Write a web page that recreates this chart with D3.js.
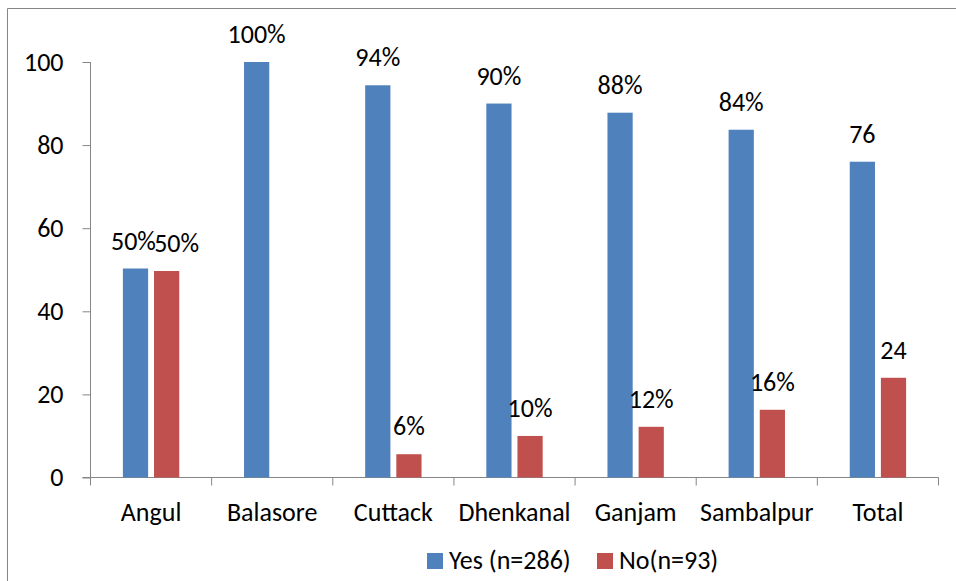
<!DOCTYPE html>
<html>
<head>
<meta charset="utf-8">
<script src="https://cdn.jsdelivr.net/npm/d3@7"></script>
<style>
  body { margin: 0; background: #fff; }
  svg { font-family: Carlito, Calibri, "Open Sans", sans-serif; }
</style>
</head>
<body>
<div id="graph"></div>
<script>
var districts = ["Angul", "Balasore", "Cuttack", "Dhenkanal", "Ganjam", "Sambalpur", "Total"];
var yesValues = [50.3, 100, 94.4, 90, 87.8, 83.7, 76];
var noValues = [49.7, 0, 5.6, 10, 12.2, 16.3, 24];
var yesLabels = ["50%", "100%", "94%", "90%", "88%", "84%", "76"];
var noLabels = ["50%", "", "6%", "10%", "12%", "16%", "24"];
var yTicks = [0, 20, 40, 60, 80, 100];
var seriesNames = ["Yes (n=286)", "No(n=93)"];
var seriesColors = ["#4F81BD", "#C0504D"];

var width = 956, height = 581;
var plotLeft = 90.5, plotRight = 938.5, plotTop = 62, plotBottom = 477.5;
var fontSize = "26px";

var chart = d3.select("#graph").append("svg")
    .attr("width", width)
    .attr("height", height);

// outer chart border (runs off the page to the right and bottom)
chart.append("path")
    .attr("d", "M7.5," + height + "V8.5H" + width)
    .attr("fill", "none")
    .attr("stroke", "#868686")
    .attr("stroke-width", 1);

var xScale = d3.scaleBand()
    .domain(districts)
    .range([plotLeft, plotRight]);

var inner = d3.scaleBand()
    .domain([0, 1])
    .range([0, xScale.bandwidth()])
    .paddingInner(0.19)
    .paddingOuter(1.04);

var yScale = d3.scaleLinear()
    .domain([0, 100])
    .range([plotBottom, plotTop]);

// y axis
var yAxis = chart.append("g")
    .attr("transform", "translate(" + plotLeft + ",0)")
    .call(d3.axisLeft(yScale).tickValues(yTicks).tickSize(8).tickPadding(19));
yAxis.attr("font-family", null).attr("font-size", null);
yAxis.selectAll("text").attr("font-size", fontSize).attr("fill", "#000");
yAxis.selectAll("line").attr("stroke", "#868686");
yAxis.select(".domain").attr("stroke", "#868686")
    .attr("d", "M0," + plotTop + "V" + plotBottom);

// x axis with boundary ticks
var xAxis = chart.append("g")
    .attr("transform", "translate(0," + plotBottom + ")");
xAxis.append("line")
    .attr("x1", plotLeft - 8).attr("x2", plotRight)
    .attr("stroke", "#868686");
xAxis.selectAll(".bound")
    .data(districts.concat(["end"]))
    .enter().append("line")
    .attr("x1", function(d, i) { return plotLeft + i * xScale.step(); })
    .attr("x2", function(d, i) { return plotLeft + i * xScale.step(); })
    .attr("y1", 0).attr("y2", 8)
    .attr("stroke", "#868686");
xAxis.selectAll(".cat")
    .data(districts)
    .enter().append("text")
    .attr("x", function(d) { return xScale(d) + xScale.bandwidth() / 2; })
    .attr("y", 43)
    .attr("text-anchor", "middle")
    .attr("font-size", fontSize)
    .text(function(d) { return d; });

// bars
var series = [yesValues, noValues];
var labels = [yesLabels, noLabels];
series.forEach(function(vals, s) {
  chart.append("g").selectAll("rect")
    .data(vals)
    .enter().append("rect")
    .attr("x", function(d, i) { return xScale(districts[i]) + inner(s); })
    .attr("y", function(d) { return yScale(d); })
    .attr("width", inner.bandwidth())
    .attr("height", function(d) { return plotBottom - yScale(d); })
    .attr("fill", seriesColors[s]);

  chart.append("g").selectAll("text")
    .data(vals)
    .enter().append("text")
    .attr("x", function(d, i) {
      var cx = xScale(districts[i]) + inner(s) + inner.bandwidth() / 2;
      // labels that would collide with their neighbour get pushed apart, like Excel does
      if (Math.abs(series[0][i] - series[1][i]) < 3) cx += (s == 0 ? -2 : 10);
      return cx;
    })
    .attr("y", function(d) { return yScale(d) - 19; })
    .attr("text-anchor", "middle")
    .attr("font-size", fontSize)
    .text(function(d, i) { return labels[s][i]; });
});

// legend
var legendX = [427, 597];
var legend = chart.append("g");
seriesNames.forEach(function(name, s) {
  legend.append("rect")
    .attr("x", legendX[s]).attr("y", 553)
    .attr("width", 16).attr("height", 16)
    .attr("fill", seriesColors[s]);
  legend.append("text")
    .attr("x", legendX[s] + 22).attr("y", 569)
    .attr("font-size", fontSize)
    .text(name);
});
</script>
</body>
</html>
